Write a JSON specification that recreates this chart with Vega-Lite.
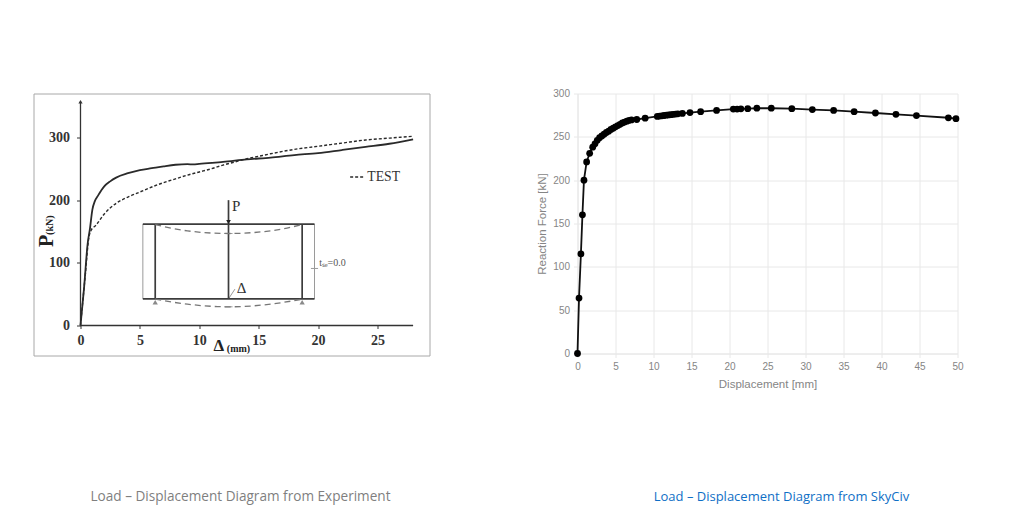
{
  "$schema": "https://vega.github.io/schema/vega-lite/v6.json",
  "background": "white",
  "padding": {"left": 32.5, "top": 88.5, "right": 0, "bottom": 0},
  "bounds": "flush",
  "spacing": 148,
  "datasets": {
    "fem": [
      {"x":0,"y":0},{"x":0.3,"y":60},{"x":0.6,"y":130},{"x":0.8,"y":155},{"x":1,"y":185},{"x":1.2,"y":198},{"x":1.5,"y":208},{"x":2,"y":222},{"x":2.5,"y":230},{"x":3,"y":236},{"x":4,"y":243},{"x":5,"y":248},{"x":6,"y":251},{"x":7,"y":254},{"x":8,"y":256.5},{"x":9,"y":257.5},{"x":9.5,"y":257},{"x":10,"y":258},{"x":12,"y":261},{"x":14,"y":265},{"x":16,"y":268},{"x":18,"y":272},{"x":20,"y":275},{"x":22,"y":280},{"x":24,"y":285},{"x":26,"y":290},{"x":28,"y":297}
    ],
    "test": [
      {"x":0,"y":0},{"x":0.4,"y":80},{"x":0.7,"y":140},{"x":0.9,"y":152},{"x":1.3,"y":160},{"x":2,"y":178},{"x":3,"y":195},{"x":4,"y":205},{"x":5,"y":213},{"x":6,"y":221},{"x":7,"y":228},{"x":8,"y":234},{"x":9,"y":240},{"x":10,"y":245},{"x":11,"y":250},{"x":12,"y":256},{"x":13,"y":261},{"x":14,"y":266},{"x":15,"y":270},{"x":16,"y":274},{"x":18,"y":281},{"x":20,"y":286},{"x":22,"y":291},{"x":24,"y":296},{"x":26,"y":299},{"x":28,"y":302}
    ],
    "skyciv": [
      {"x":0,"y":0},{"x":0.2,"y":64},{"x":0.45,"y":115},{"x":0.65,"y":160},{"x":0.85,"y":200},{"x":1.2,"y":221},{"x":1.6,"y":231},{"x":2,"y":238},{"x":2.3,"y":242},{"x":2.6,"y":246},{"x":2.9,"y":249},{"x":3.2,"y":251},{"x":3.5,"y":253},{"x":3.8,"y":255},{"x":4.1,"y":256.5},{"x":4.4,"y":258.5},{"x":4.7,"y":260},{"x":5,"y":261.5},{"x":5.3,"y":263},{"x":5.6,"y":264.5},{"x":5.9,"y":266},{"x":6.2,"y":267},{"x":6.5,"y":268},{"x":6.8,"y":269},{"x":7.1,"y":269.5},{"x":7.8,"y":270},{"x":8.9,"y":271.5},{"x":10.5,"y":273.5},{"x":10.8,"y":274},{"x":11.1,"y":274.3},{"x":11.4,"y":274.6},{"x":11.7,"y":275},{"x":12,"y":275.3},{"x":12.3,"y":275.6},{"x":12.6,"y":276},{"x":12.9,"y":276.3},{"x":13.2,"y":276.6},{"x":13.8,"y":277},{"x":14.8,"y":278},{"x":16.2,"y":279},{"x":18.3,"y":280.5},{"x":20.5,"y":282},{"x":21,"y":282},{"x":21.5,"y":282.3},{"x":22.4,"y":282.5},{"x":23.6,"y":283},{"x":25.5,"y":283},{"x":28.2,"y":282.5},{"x":30.9,"y":281.5},{"x":33.7,"y":280.5},{"x":36.4,"y":279},{"x":39.2,"y":277.5},{"x":41.9,"y":276},{"x":44.6,"y":274.5},{"x":48.8,"y":272},{"x":49.8,"y":271}
    ],
    "axes": [
      {"part":"y axis","x":0,"y":0},{"part":"y axis","x":0,"y":357},
      {"part":"x axis","x":0,"y":0},{"part":"x axis","x":28,"y":0}
    ],
    "frame_dark": [
      {"part":"top chord","x":5.25,"y":161.7},{"part":"top chord","x":19.7,"y":161.7},
      {"part":"bottom chord","x":5.25,"y":42.5},{"part":"bottom chord","x":19.7,"y":42.5},
      {"part":"left column","x":6.29,"y":42.5},{"part":"left column","x":6.29,"y":161.7},
      {"part":"right column","x":18.66,"y":42.5},{"part":"right column","x":18.66,"y":161.7},
      {"part":"centre","x":12.46,"y":42.5},{"part":"centre","x":12.46,"y":200}
    ],
    "frame_light": [
      {"part":"left end","x":5.25,"y":42.5},{"part":"left end","x":5.25,"y":161.7},
      {"part":"right end","x":19.7,"y":42.5},{"part":"right end","x":19.7,"y":161.7},
      {"part":"leader","x":12.46,"y":42.5},{"part":"leader","x":13,"y":58},
      {"part":"tse tick","x":19.4,"y":91},{"part":"tse tick","x":20,"y":91},
      {"part":"mid tick top","x":12.1,"y":146.8},{"part":"mid tick top","x":12.8,"y":146.8},
      {"part":"mid tick bottom","x":12.1,"y":29.8},{"part":"mid tick bottom","x":12.8,"y":29.8}
    ],
    "deflected": [
      {"part":"top","x":6.29,"y":161},{"part":"top","x":9,"y":151},{"part":"top","x":12.46,"y":146.8},{"part":"top","x":16,"y":151},{"part":"top","x":18.66,"y":161},
      {"part":"bottom","x":6.29,"y":42},{"part":"bottom","x":9,"y":34},{"part":"bottom","x":12.46,"y":29.8},{"part":"bottom","x":16,"y":34},{"part":"bottom","x":18.66,"y":42}
    ],
    "legend_key": [{"x":22.7,"y":237},{"x":23.9,"y":237}]
  },
  "hconcat": [
    {
      "width": 396,
      "height": 262,
      "view": {"stroke": "#a8a8a8", "strokeWidth": 1},
      "title": {"text": "Load – Displacement Diagram from Experiment", "orient": "bottom", "anchor": "middle", "dx": 9, "offset": 134, "font": "Open Sans", "fontSize": 13.6, "fontWeight": "normal", "color": "#7f7f7f"},
      "encoding": {
        "x": {
          "field": "x", "type": "quantitative",
          "scale": {"domain": [-3.956, 29.38], "nice": false, "zero": false},
          "axis": {"orient": "bottom", "offset": -30, "values": [0,5,10,15,20,25], "title": null, "grid": false, "domain": false, "labelFlush": false, "tickSize": 3, "tickColor": "#333333", "labelFont": "Liberation Serif", "labelFontWeight": "bold", "labelFontSize": 14, "labelColor": "#333333", "labelPadding": 5, "format": "d"}
        },
        "y": {
          "field": "y", "type": "quantitative",
          "scale": {"domain": [-47.9, 370.2], "nice": false, "zero": false},
          "axis": {"orient": "left", "offset": -47, "values": [0,100,200,300], "title": null, "grid": false, "domain": false, "tickSize": 4, "tickColor": "#333333", "labelFont": "Liberation Serif", "labelFontWeight": "bold", "labelFontSize": 14, "labelColor": "#333333", "labelPadding": 7, "format": "d"}
        }
      },
      "layer": [
        {"data": {"name": "axes"}, "mark": {"type": "line", "color": "#333333", "strokeWidth": 1.3}, "encoding": {"detail": {"field": "part"}}},
        {"data": {"values": [{"x":0,"y":357}]}, "mark": {"type": "point", "shape": "triangle-up", "filled": true, "color": "#333333", "size": 18, "opacity": 1}},
        {"data": {"name": "frame_light"}, "mark": {"type": "line", "color": "#9a9a9a", "strokeWidth": 1}, "encoding": {"detail": {"field": "part"}}},
        {"data": {"name": "frame_dark"}, "mark": {"type": "line", "color": "#3c3c3c", "strokeWidth": 1.7}, "encoding": {"detail": {"field": "part"}}},
        {"data": {"name": "deflected"}, "mark": {"type": "line", "color": "#777777", "strokeWidth": 1.3, "strokeDash": [6, 4], "interpolate": "monotone"}, "encoding": {"detail": {"field": "part"}}},
        {"data": {"values": [{"x":12.46,"y":165}]}, "mark": {"type": "point", "shape": "triangle-down", "filled": true, "color": "#222222", "size": 22, "opacity": 1}},
        {"data": {"values": [{"x":6.29,"y":37},{"x":18.66,"y":37}]}, "mark": {"type": "point", "shape": "triangle-up", "filled": true, "color": "#8a8a8a", "size": 28, "opacity": 1}},
        {"data": {"name": "fem"}, "mark": {"type": "line", "color": "#2a2a2a", "strokeWidth": 1.8, "interpolate": "monotone"}},
        {"data": {"name": "test"}, "mark": {"type": "line", "color": "#2a2a2a", "strokeWidth": 1.4, "strokeDash": [3, 2], "interpolate": "monotone"}},
        {"data": {"name": "legend_key"}, "mark": {"type": "line", "color": "#2a2a2a", "strokeWidth": 1.4, "strokeDash": [3, 2]}},
        {"data": {"values": [{"x":24.15,"y":237,"label":"TEST"}]}, "mark": {"type": "text", "align": "left", "baseline": "middle", "font": "Liberation Serif", "fontSize": 13.7, "color": "#333333"}, "encoding": {"text": {"field": "label"}}},
        {"data": {"values": [{"x":13.1,"y":190,"label":"P"}]}, "mark": {"type": "text", "align": "center", "baseline": "middle", "font": "Liberation Serif", "fontSize": 15, "color": "#333333"}, "encoding": {"text": {"field": "label"}}},
        {"data": {"values": [{"x":13.55,"y":60,"label":"Δ"}]}, "mark": {"type": "text", "align": "center", "baseline": "middle", "font": "Liberation Serif", "fontSize": 15, "color": "#333333"}, "encoding": {"text": {"field": "label"}}},
        {"data": {"values": [{"x":20.1,"y":99,"label":"tₛₑ=0.0"}]}, "mark": {"type": "text", "align": "left", "baseline": "middle", "font": "Liberation Serif", "fontSize": 10, "color": "#555555"}, "encoding": {"text": {"field": "label"}}},
        {"data": {"values": [{"x":-2.8,"y":135,"label":"P"}]}, "mark": {"type": "text", "align": "center", "baseline": "middle", "angle": 270, "font": "Liberation Serif", "fontWeight": "bold", "fontSize": 20, "color": "#222222"}, "encoding": {"text": {"field": "label"}}},
        {"data": {"values": [{"x":-2.55,"y":160,"label":"(kN)"}]}, "mark": {"type": "text", "align": "center", "baseline": "middle", "angle": 270, "font": "Liberation Serif", "fontWeight": "bold", "fontSize": 10, "color": "#222222"}, "encoding": {"text": {"field": "label"}}},
        {"data": {"values": [{"x":11.65,"y":-33,"label":"Δ"}]}, "mark": {"type": "text", "align": "center", "baseline": "middle", "font": "Liberation Serif", "fontWeight": "bold", "fontSize": 17, "color": "#222222"}, "encoding": {"text": {"field": "label"}}},
        {"data": {"values": [{"x":13.3,"y":-37,"label":"(mm)"}]}, "mark": {"type": "text", "align": "center", "baseline": "middle", "font": "Liberation Serif", "fontWeight": "bold", "fontSize": 10, "color": "#222222"}, "encoding": {"text": {"field": "label"}}}
      ]
    },
    {
      "width": 380,
      "height": 260,
      "view": {"stroke": null},
      "title": {"text": "Load – Displacement Diagram from SkyCiv", "orient": "bottom", "anchor": "middle", "dx": 14, "offset": 101, "font": "Open Sans", "fontSize": 13, "fontWeight": "normal", "color": "#0f6fc6"},
      "data": {"name": "skyciv"},
      "encoding": {
        "x": {
          "field": "x", "type": "quantitative",
          "title": "Displacement [mm]",
          "scale": {"domain": [0, 50], "nice": false},
          "axis": {"values": [0,5,10,15,20,25,30,35,40,45,50], "format": "d", "grid": true, "gridColor": "#e8e8e8", "domain": true, "domainColor": "#e8e8e8", "tickColor": "#e8e8e8", "tickSize": 4, "labelFlush": false, "labelFont": "Liberation Sans", "labelFontSize": 10, "labelColor": "#858585", "labelPadding": 4, "titleFont": "Liberation Sans", "titleFontSize": 11.5, "titleFontWeight": "normal", "titleColor": "#858585", "titlePadding": 7}
        },
        "y": {
          "field": "y", "type": "quantitative",
          "title": "Reaction Force [kN]",
          "scale": {"domain": [0, 300], "nice": false},
          "axis": {"values": [0,50,100,150,200,250,300], "format": "d", "grid": true, "gridColor": "#e8e8e8", "domain": true, "domainColor": "#e8e8e8", "tickColor": "#e8e8e8", "tickSize": 4, "labelFont": "Liberation Sans", "labelFontSize": 10, "labelColor": "#858585", "labelPadding": 4, "titleFont": "Liberation Sans", "titleFontSize": 11.5, "titleFontWeight": "normal", "titleColor": "#858585", "titlePadding": 5}
        }
      },
      "layer": [
        {"mark": {"type": "line", "color": "#111111", "strokeWidth": 1.8, "clip": false}},
        {"mark": {"type": "circle", "color": "#000000", "size": 46, "opacity": 1, "clip": false}}
      ]
    }
  ]
}
